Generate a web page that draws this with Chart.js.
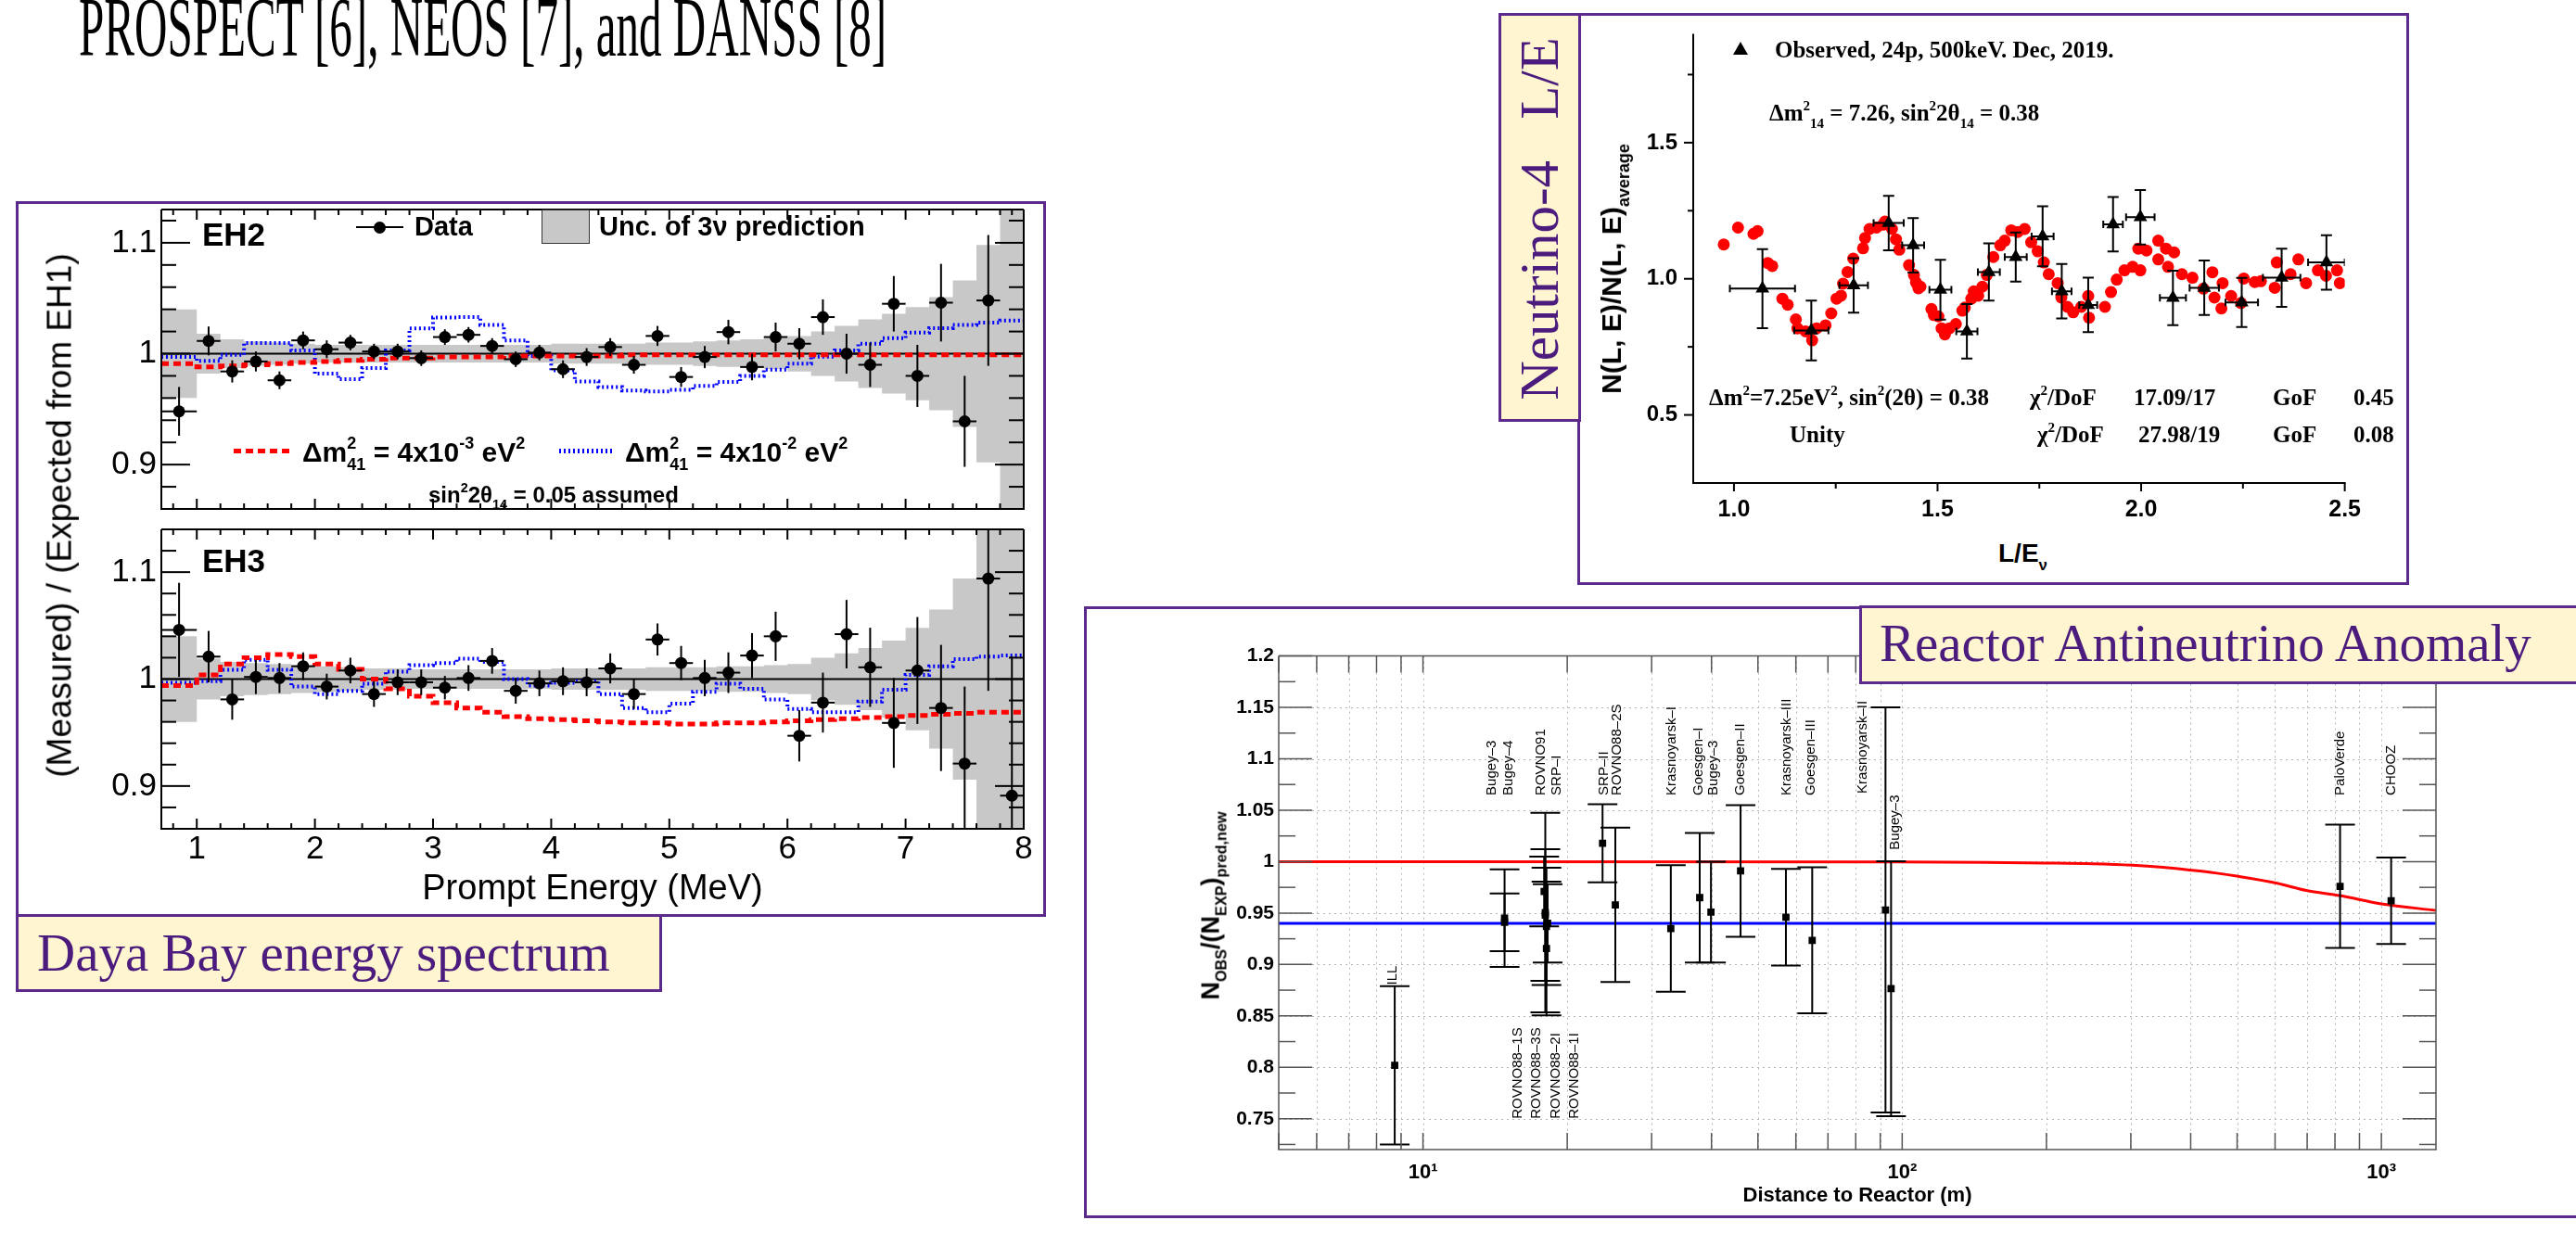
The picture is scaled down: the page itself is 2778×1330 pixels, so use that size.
<!DOCTYPE html>
<html>
<head>
<meta charset="utf-8">
<script src="https://cdn.jsdelivr.net/npm/chart.js@4.4.1/dist/chart.umd.min.js"></script>
<style>
  html, body { margin: 0; padding: 0; background: #fff; }
  body { position: relative; width: 2778px; height: 1330px; overflow: hidden; }
  canvas { position: absolute; }
  .box { position: absolute; border: 3px solid #5b2a8c; box-sizing: border-box; }
  .tag { position: absolute; border: 3px solid #5b2a8c; background: #fff6d1; box-sizing: border-box; }
  .txt { position: absolute; white-space: pre; line-height: 1; }
  .sp { font-size: 0.6em; position: relative; top: -0.75em; }
  .sb { font-size: 0.6em; position: relative; top: 0.5em; }
  .mk { position: absolute; }
</style>
</head>
<body>
<div class="box" style="left:17px;top:217px;width:1111px;height:772px"></div>
<div class="box" style="left:1701px;top:14px;width:897px;height:617px"></div>
<div class="box" style="left:1169px;top:654px;width:1612px;height:660px"></div>

<canvas id="eh2" width="1120" height="375" style="left:0;top:200px"></canvas>
<canvas id="eh3" width="1120" height="455" style="left:0;top:545px"></canvas>
<canvas id="n4" width="820" height="560" style="left:1740px;top:5px"></canvas>
<canvas id="rx" width="1330" height="590" style="left:1320px;top:690px"></canvas>

<div class="tag" style="left:17px;top:986px;width:697px;height:84px"></div>
<div class="tag" style="left:1616px;top:14px;width:89px;height:441px"></div>
<div class="tag" style="left:2005px;top:653px;width:776px;height:85px"></div>

<script>
// ---------- Daya Bay: EH2 / EH3 ratio to EH1 prediction ----------
const dbBinEdges = [0.7, 1.0, 1.2, 1.4, 1.6, 1.8, 2.0, 2.2, 2.4, 2.6, 2.8, 3.0, 3.2, 3.4, 3.6, 3.8, 4.0, 4.2, 4.4,
  4.6, 4.8, 5.0, 5.2, 5.4, 5.6, 5.8, 6.0, 6.2, 6.4, 6.6, 6.8, 7.0, 7.2, 7.4, 7.6, 7.8, 8.0];
const dbEnergy = [0.85, 1.1, 1.3, 1.5, 1.7, 1.9, 2.1, 2.3, 2.5, 2.7, 2.9, 3.1, 3.3, 3.5, 3.7, 3.9, 4.1, 4.3,
  4.5, 4.7, 4.9, 5.1, 5.3, 5.5, 5.7, 5.9, 6.1, 6.3, 6.5, 6.7, 6.9, 7.1, 7.3, 7.5, 7.7, 7.9];

const eh2Ratio = [0.948, 1.0115, 0.984, 0.993, 0.976, 1.012, 1.004, 1.010, 1.002, 1.002, 0.996, 1.015, 1.017,
  1.007, 0.995, 1.001, 0.986, 0.997, 1.006, 0.990, 1.016, 0.979, 0.997, 1.0195, 0.988, 1.015, 1.009, 1.033,
  1.000, 0.990, 1.045, 0.980, 1.046, 0.939, 1.048, 1.25];
const eh2Err = [0.022, 0.013, 0.010, 0.009, 0.008, 0.008, 0.008, 0.007, 0.007, 0.007, 0.007, 0.007, 0.007,
  0.007, 0.007, 0.007, 0.008, 0.008, 0.008, 0.008, 0.009, 0.009, 0.010, 0.011, 0.012, 0.013, 0.014, 0.016,
  0.018, 0.020, 0.025, 0.028, 0.035, 0.041, 0.059, 0.125];
const eh2Band = [0.040, 0.018, 0.013, 0.011, 0.010, 0.009, 0.008, 0.008, 0.008, 0.008, 0.008, 0.008, 0.008,
  0.008, 0.008, 0.008, 0.009, 0.009, 0.009, 0.009, 0.010, 0.010, 0.011, 0.012, 0.013, 0.014, 0.016, 0.020,
  0.025, 0.031, 0.036, 0.042, 0.051, 0.066, 0.098, 0.300];
const eh2Red = [0.991, 0.988, 0.989, 0.990, 0.991, 0.992, 0.993, 0.994, 0.995, 0.996, 0.996, 0.997, 0.997,
  0.997, 0.998, 0.998, 0.998, 0.998, 0.998, 0.999, 0.999, 0.999, 0.999, 0.999, 0.999, 0.999, 0.999, 0.999,
  0.999, 0.999, 0.999, 0.999, 0.999, 0.999, 0.999, 0.999];
const eh2Blue = [0.997, 0.9935, 0.999, 1.0096, 1.0096, 1.003, 0.982, 0.977, 0.987, 1.003, 1.0227, 1.0326,
  1.033, 1.026, 1.012, 0.998, 0.985, 0.975, 0.970, 0.9667, 0.966, 0.9675, 0.971, 0.9745, 0.980, 0.9857,
  0.991, 0.9974, 1.003, 1.009, 1.014, 1.019, 1.023, 1.026, 1.028, 1.030];

const eh3Ratio = [1.046, 1.021, 0.981, 1.002, 1.001, 1.012, 0.993, 1.008, 0.986, 0.997, 0.997, 0.992, 1.001,
  1.017, 0.989, 0.996, 0.998, 0.997, 1.010, 0.986, 1.037, 1.015, 1.001, 1.006, 1.022, 1.040, 0.947, 0.978,
  1.042, 1.011, 0.959, 1.008, 0.973, 0.921, 1.094, 0.891];
const eh3Err = [0.044, 0.024, 0.019, 0.016, 0.014, 0.013, 0.012, 0.012, 0.012, 0.012, 0.012, 0.011, 0.012,
  0.012, 0.012, 0.012, 0.013, 0.013, 0.014, 0.014, 0.015, 0.016, 0.017, 0.019, 0.021, 0.023, 0.024, 0.028,
  0.032, 0.037, 0.042, 0.050, 0.059, 0.072, 0.105, 0.130];
const eh3Band = [0.040, 0.019, 0.016, 0.015, 0.014, 0.013, 0.012, 0.011, 0.010, 0.010, 0.009, 0.009, 0.009,
  0.009, 0.009, 0.009, 0.010, 0.010, 0.010, 0.010, 0.011, 0.011, 0.011, 0.012, 0.012, 0.013, 0.014, 0.020,
  0.024, 0.029, 0.036, 0.048, 0.065, 0.094, 0.200, 0.300];
const eh3Red = [0.994, 1.004, 1.014, 1.020, 1.023, 1.021, 1.014, 1.009, 1.000, 0.991, 0.984, 0.978, 0.973,
  0.969, 0.965, 0.963, 0.962, 0.961, 0.960, 0.959, 0.959, 0.958, 0.958, 0.959, 0.959, 0.960, 0.961, 0.962,
  0.963, 0.964, 0.965, 0.966, 0.967, 0.968, 0.969, 0.969];
const eh3Blue = [0.9966, 0.998, 1.0086, 1.018, 1.0086, 0.993, 0.986, 0.989, 0.9957, 1.007, 1.013, 1.015,
  1.019, 1.016, 1.000, 0.994, 0.9966, 0.998, 0.986, 0.973, 0.969, 0.977, 0.988, 0.9957, 0.991, 0.981, 0.972,
  0.969, 0.969, 0.979, 0.990, 1.004, 1.012, 1.0186, 1.021, 1.022];

const dbXTicks = [1, 2, 3, 4, 5, 6, 7, 8];
const dbXMinor = [0.8, 1.2, 1.4, 1.6, 1.8, 2.2, 2.4, 2.6, 2.8, 3.2, 3.4, 3.6, 3.8, 4.2, 4.4, 4.6, 4.8, 5.2,
  5.4, 5.6, 5.8, 6.2, 6.4, 6.6, 6.8, 7.2, 7.4, 7.6, 7.8];
const dbYTicks = [0.9, 1.0, 1.1];
const dbYTickLabels = ['0.9', '1', '1.1'];
const dbYMinor = [0.86, 0.88, 0.92, 0.94, 0.96, 0.98, 1.02, 1.04, 1.06, 1.08, 1.12];

// ---------- Neutrino-4: N(L,E)/N(L,E)average vs L/E ----------
const n4ObsX = [1.07, 1.19, 1.294, 1.38, 1.44, 1.507, 1.572, 1.626, 1.692, 1.758, 1.805, 1.87, 1.931, 1.998,
  2.078, 2.155, 2.247, 2.345, 2.455];
const n4ObsY = [0.964, 0.81, 0.976, 1.205, 1.123, 0.96, 0.807, 1.025, 1.08, 1.156, 0.954, 0.904, 1.20, 1.226,
  0.93, 0.967, 0.913, 1.004, 1.06];
const n4ObsErrY = [0.145, 0.11, 0.10, 0.10, 0.10, 0.11, 0.10, 0.105, 0.09, 0.11, 0.10, 0.10, 0.10, 0.10,
  0.10, 0.10, 0.09, 0.107, 0.10];
const n4ObsErrX = [0.08, 0.042, 0.035, 0.037, 0.027, 0.027, 0.026, 0.027, 0.027, 0.027, 0.024, 0.022, 0.024,
  0.035, 0.032, 0.036, 0.04, 0.046, 0.045];
const n4CurveX = [0.975, 1.01, 1.048, 1.058, 1.083, 1.094, 1.119, 1.132, 1.152, 1.156, 1.176, 1.192, 1.203,
  1.225, 1.239, 1.252, 1.263, 1.268, 1.279, 1.293, 1.317, 1.322, 1.333, 1.35, 1.366, 1.371, 1.388, 1.398,
  1.406, 1.43, 1.442, 1.447, 1.453, 1.458, 1.485, 1.491, 1.502, 1.51, 1.518, 1.529, 1.545, 1.561, 1.567,
  1.583, 1.589, 1.6, 1.61, 1.621, 1.637, 1.654, 1.665, 1.681, 1.697, 1.714, 1.73, 1.746, 1.761, 1.773,
  1.795, 1.804, 1.819, 1.833, 1.853, 1.87, 1.872, 1.911, 1.926, 1.94, 1.959, 1.979, 1.998, 1.993, 2.013,
  2.042, 2.042, 2.061, 2.081, 2.066, 2.1, 2.126, 2.153, 2.175, 2.18, 2.197, 2.2, 2.221, 2.245, 2.252, 2.279,
  2.294, 2.328, 2.333, 2.367, 2.386, 2.405, 2.434, 2.454, 2.481, 2.488];
const n4CurveY = [1.126, 1.188, 1.165, 1.175, 1.058, 1.047, 0.927, 0.905, 0.851, 0.818, 0.807, 0.774, 0.818,
  0.829, 0.873, 0.927, 0.938, 0.982, 1.025, 1.074, 1.112, 1.15, 1.183, 1.188, 1.199, 1.21, 1.183, 1.145,
  1.107, 1.05, 1.014, 0.987, 0.965, 0.971, 0.889, 0.867, 0.862, 0.818, 0.796, 0.818, 0.834, 0.883, 0.894,
  0.927, 0.954, 0.938, 0.971, 1.014, 1.08, 1.123, 1.14, 1.178, 1.172, 1.183, 1.134, 1.101, 1.06, 1.017,
  0.984, 0.931, 0.897, 0.877, 0.897, 0.937, 0.857, 0.897, 0.951, 0.997, 1.031, 1.044, 1.031, 1.111, 1.104,
  1.14, 1.071, 1.111, 1.097, 1.044, 1.017, 1.004, 0.964, 1.024, 0.931, 0.891, 0.984, 0.937, 0.911, 1.001,
  0.988, 0.991, 0.967, 1.06, 1.017, 1.071, 0.984, 1.031, 1.011, 1.031, 0.984];
const n4XTicks = [1.0, 1.5, 2.0, 2.5];
const n4XTickLabels = ['1.0', '1.5', '2.0', '2.5'];
const n4XMinor = [1.25, 1.75, 2.25];
const n4YTicks = [0.5, 1.0, 1.5];
const n4YTickLabels = ['0.5', '1.0', '1.5'];
const n4YMinor = [0.75, 1.25, 1.75];

// ---------- Reactor antineutrino anomaly ----------
const rxDist = [8.73, 14.8, 14.8, 17.9, 18.0, 18.0, 18.1, 18.1, 18.2, 23.7, 25.2, 32.9, 37.8, 39.9, 46.0,
  57.2, 64.9, 92.3, 94.8, 820, 1048];
const rxRatio = [0.802, 0.945, 0.941, 0.971, 0.9505, 0.948, 0.937, 0.9155, 0.94, 1.0178, 0.958, 0.935, 0.965,
  0.951, 0.991, 0.946, 0.9235, 0.953, 0.8765, 0.976, 0.962];
const rxErr = [0.077, 0.0475, 0.028, 0.034, 0.097, 0.064, 0.057, 0.065, 0.038, 0.038, 0.075, 0.0615, 0.063,
  0.049, 0.064, 0.047, 0.071, 0.197, 0.124, 0.06, 0.042];
const rxCurveX = [5, 100, 150, 199, 250, 302, 350, 399, 450, 503, 606, 697, 820, 1000, 1300];
const rxCurveY = [1.0, 0.9997, 0.9993, 0.9987, 0.998, 0.9966, 0.9945, 0.9918, 0.989, 0.9857, 0.979, 0.972,
  0.967, 0.959, 0.9525];
const rxMeanX = [5, 1300];
const rxMeanY = [0.94, 0.94];
const rxLabels = ['Bugey–3', 'Bugey–4', 'ROVNO91', 'SRP–I', 'SRP–II', 'ROVNO88–2S', 'Krasnoyarsk–I',
  'Goesgen–I', 'Bugey–3', 'Goesgen–II', 'Krasnoyarsk–III', 'Goesgen–III', 'Krasnoyarsk–II', 'Bugey–3',
  'PaloVerde', 'CHOOZ', 'ILL', 'ROVNO88–1S', 'ROVNO88–3S', 'ROVNO88–2I', 'ROVNO88–1I'];
const rxLabelX = [13.9, 15.1, 17.6, 19.0, 23.9, 25.4, 33.0, 37.6, 40.4, 46.0, 57.3, 64.6, 82.6, 96.9, 822,
  1050, 8.63, 15.77, 17.23, 18.93, 20.7];
const rxLabelY = [1.0645, 1.0645, 1.0645, 1.0645, 1.0645, 1.0645, 1.0645, 1.0645, 1.0645, 1.0645, 1.0645,
  1.0645, 1.0663, 1.0115, 1.0645, 1.0645, 0.880, 0.750, 0.750, 0.750, 0.750];
const rxYTicks = [0.75, 0.8, 0.85, 0.9, 0.95, 1.0, 1.05, 1.1, 1.15, 1.2];
const rxYTickLabels = ['0.75', '0.8', '0.85', '0.9', '0.95', '1', '1.05', '1.1', '1.15', '1.2'];
const rxYMinor = [0.725, 0.775, 0.825, 0.875, 0.925, 0.975, 1.025, 1.075, 1.125, 1.175];
const rxXTicks = [10, 100, 1000];
const rxXTickLabels = ['10¹', '10²', '10³'];
const rxXMinor = [5, 6, 7, 8, 9, 10, 20, 30, 40, 50, 60, 70, 80, 90, 100, 200, 300, 400, 500, 600, 700, 800,
  900, 1000];

Chart.defaults.font.family = "'Liberation Sans', Arial, sans-serif";
Chart.defaults.color = '#000';

const xy = (xs, ys) => xs.map((x, i) => ({ x: x, y: ys[i] }));
const stepPoints = (edges, vals) => edges.map((e, i) => ({ x: e, y: vals[Math.min(i, vals.length - 1)] }));

// frame, ticks, grid, labels and error bars, per canvas
const decorConfig = {};

function seg(ctx, x1, y1, x2, y2) {
  ctx.beginPath(); ctx.moveTo(x1, y1); ctx.lineTo(x2, y2); ctx.stroke();
}

const decor = {
  id: 'decor',
  beforeDatasetsDraw(chart) {
    const o = decorConfig[chart.canvas.id];
    if (!o || !o.grid) return;
    const { ctx, chartArea: a, scales } = chart;
    ctx.save();
    ctx.strokeStyle = o.grid.color; ctx.lineWidth = 1; ctx.setLineDash(o.grid.dash);
    o.grid.x.forEach(v => { const p = Math.round(scales.x.getPixelForValue(v)) + 0.5; seg(ctx, p, a.top, p, a.bottom); });
    o.grid.y.forEach(v => { const p = Math.round(scales.y.getPixelForValue(v)) + 0.5; seg(ctx, a.left, p, a.right, p); });
    ctx.restore();
  },
  afterDatasetDraw(chart, args) {
    const ds = chart.data.datasets[args.index];
    if (!ds.errY && !ds.errX) return;
    const { ctx, chartArea: a, scales } = chart;
    ctx.save();
    ctx.beginPath(); ctx.rect(a.left, a.top, a.right - a.left, a.bottom - a.top); ctx.clip();
    ctx.strokeStyle = '#000'; ctx.lineWidth = ds.errWidth || 2;
    ds.data.forEach((p, i) => {
      const px = scales.x.getPixelForValue(p.x), py = scales.y.getPixelForValue(p.y);
      if (ds.errY) {
        const y1 = scales.y.getPixelForValue(p.y + ds.errY[i]), y2 = scales.y.getPixelForValue(p.y - ds.errY[i]);
        seg(ctx, px, y1, px, y2);
        if (ds.capY) { seg(ctx, px - ds.capY, y1, px + ds.capY, y1); seg(ctx, px - ds.capY, y2, px + ds.capY, y2); }
      }
      if (ds.errX) {
        const x1 = scales.x.getPixelForValue(p.x - ds.errX[i]), x2 = scales.x.getPixelForValue(p.x + ds.errX[i]);
        seg(ctx, x1, py, x2, py);
        if (ds.capX) { seg(ctx, x1, py - ds.capX, x1, py + ds.capX); seg(ctx, x2, py - ds.capX, x2, py + ds.capX); }
      }
    });
    ctx.restore();
  },
  afterDatasetsDraw(chart) {
    const o = decorConfig[chart.canvas.id];
    if (!o) return;
    const { ctx, chartArea: a, scales } = chart;
    ctx.save();
    ctx.strokeStyle = o.color; ctx.lineWidth = o.tickWidth;
    o.ticks.forEach(t => {
      const sc = scales[t.axis];
      t.values.forEach(v => {
        if (v < sc.min - 1e-9 || v > sc.max + 1e-9) return;
        const p = sc.getPixelForValue(v);
        const s = t.dir === 'out' ? -1 : 1;
        t.sides.forEach(side => {
          if (side === 'left') seg(ctx, a.left, p, a.left + s * t.len, p);
          if (side === 'right') seg(ctx, a.right, p, a.right - s * t.len, p);
          if (side === 'bottom') seg(ctx, p, a.bottom, p, a.bottom - s * t.len);
          if (side === 'top') seg(ctx, p, a.top, p, a.top + s * t.len);
        });
      });
    });
    ctx.lineWidth = o.frameWidth;
    o.frame.forEach(side => {
      if (side === 'left') seg(ctx, a.left, a.top, a.left, a.bottom);
      if (side === 'right') seg(ctx, a.right, a.top, a.right, a.bottom);
      if (side === 'top') seg(ctx, a.left, a.top, a.right, a.top);
      if (side === 'bottom') seg(ctx, a.left - o.frameWidth / 2, a.bottom, a.right + o.frameWidth / 2, a.bottom);
    });
    if (o.labels) {
      ctx.fillStyle = '#000';
      ctx.font = o.labels.font;
      ctx.textAlign = 'left'; ctx.textBaseline = 'middle';
      o.labels.text.forEach((txt, i) => {
        const px = scales.x.getPixelForValue(o.labels.x[i]), py = scales.y.getPixelForValue(o.labels.y[i]);
        ctx.save(); ctx.translate(px, py); ctx.rotate(-Math.PI / 2); ctx.fillText(txt, 0, 0); ctx.restore();
      });
    }
    ctx.restore();
  }
};
Chart.register(decor);

const baseOptions = (padding) => ({
  responsive: false, animation: false, devicePixelRatio: 1, events: [],
  layout: { padding: padding },
  plugins: { legend: { display: false }, tooltip: { enabled: false } }
});

function dayaBay(id, ratio, err, band, red, blue, yMax, padTop, xHeight, showX) {
  const halfBin = dbEnergy.map((e, i) => (dbBinEdges[i + 1] - dbBinEdges[i]) / 2);
  decorConfig[id] = {
    color: '#000', tickWidth: 2, frameWidth: 2, frame: ['left', 'right', 'top', 'bottom'],
    ticks: [
      { axis: 'y', values: dbYTicks, len: 31, sides: ['left', 'right'], dir: 'in' },
      { axis: 'y', values: dbYMinor, len: 16, sides: ['left', 'right'], dir: 'in' },
      { axis: 'x', values: dbXTicks, len: 11, sides: ['bottom', 'top'], dir: 'in' },
      { axis: 'x', values: dbXMinor, len: 6, sides: ['bottom', 'top'], dir: 'in' }
    ]
  };
  const opts = baseOptions({ top: padTop, right: 16, bottom: 0, left: 0 });
  opts.scales = {
    x: {
      type: 'linear', min: 0.7, max: 8,
      grid: { display: false, drawTicks: false }, border: { display: false },
      afterBuildTicks: s => { s.ticks = dbXTicks.map(v => ({ value: v })); },
      ticks: { display: showX, autoSkip: false, maxRotation: 0, padding: 1, font: { size: 35 },
        callback: (v, i) => String(dbXTicks[i]) },
      afterFit: s => { s.height = xHeight; }
    },
    y: {
      type: 'linear', min: 0.86, max: yMax,
      grid: { display: false, drawTicks: false }, border: { display: false },
      afterBuildTicks: s => { s.ticks = dbYTicks.map(v => ({ value: v })); },
      ticks: { autoSkip: false, padding: 5, font: { size: 35 }, callback: (v, i) => dbYTickLabels[i] },
      afterFit: s => { s.width = 174; }
    }
  };
  new Chart(document.getElementById(id), {
    type: 'line',
    data: { datasets: [
      { data: xy(dbEnergy, ratio), showLine: false, pointRadius: 6.5, pointBackgroundColor: '#000',
        pointBorderWidth: 0, errX: halfBin, errY: err, order: 0 },
      { data: stepPoints(dbBinEdges, red), stepped: true, borderColor: '#ff0000', borderWidth: 5,
        borderDash: [8, 5], pointRadius: 0, order: 1 },
      { data: stepPoints(dbBinEdges, blue), stepped: true, borderColor: '#0000ff', borderWidth: 4,
        borderDash: [2, 3], pointRadius: 0, order: 2 },
      { data: [{ x: 0.7, y: 1 }, { x: 8, y: 1 }], borderColor: '#000', borderWidth: 2, pointRadius: 0, order: 3 },
      { data: stepPoints(dbBinEdges, band.map(h => 1 + h)), stepped: true, borderWidth: 0, pointRadius: 0,
        fill: '+1', backgroundColor: '#c8c8c8', order: 4 },
      { data: stepPoints(dbBinEdges, band.map(h => 1 - h)), stepped: true, borderWidth: 0, pointRadius: 0,
        fill: false, order: 5 }
    ] },
    options: opts
  });
}

dayaBay('eh2', eh2Ratio, eh2Err, eh2Band, eh2Red, eh2Blue, 1.13, 21, 10, false);
dayaBay('eh3', eh3Ratio, eh3Err, eh3Band, eh3Red, eh3Blue, 1.14, 20, 106, true);

// Neutrino-4
decorConfig.n4 = {
  color: '#000', tickWidth: 2, frameWidth: 2, frame: ['left', 'bottom'],
  ticks: [
    { axis: 'y', values: n4YTicks, len: 10, sides: ['left'], dir: 'out' },
    { axis: 'y', values: n4YMinor, len: 6, sides: ['left'], dir: 'out' },
    { axis: 'x', values: n4XTicks, len: 9, sides: ['bottom'], dir: 'out' },
    { axis: 'x', values: n4XMinor, len: 6, sides: ['bottom'], dir: 'out' }
  ]
};
(function () {
  const opts = baseOptions({ top: 10, right: 20, bottom: 0, left: 0 });
  opts.scales = {
    x: {
      type: 'linear', min: 0.9, max: 2.5,
      grid: { display: false, drawTicks: false }, border: { display: false },
      afterBuildTicks: s => { s.ticks = n4XTicks.map(v => ({ value: v })); },
      ticks: { autoSkip: false, maxRotation: 0, padding: 14, font: { size: 25, weight: 'bold' },
        callback: (v, i) => n4XTickLabels[i] },
      afterFit: s => { s.height = 44; }
    },
    y: {
      type: 'linear', min: 0.25, max: 1.9,
      grid: { display: false, drawTicks: false }, border: { display: false },
      afterBuildTicks: s => { s.ticks = n4YTicks.map(v => ({ value: v })); },
      ticks: { autoSkip: false, padding: 17, font: { size: 24, weight: 'bold' },
        callback: (v, i) => n4YTickLabels[i] },
      afterFit: s => { s.width = 86; }
    }
  };
  new Chart(document.getElementById('n4'), {
    type: 'line',
    data: { datasets: [
      { data: xy(n4ObsX, n4ObsY), showLine: false, pointStyle: 'triangle', pointRadius: 8.5,
        pointBackgroundColor: '#000', pointBorderWidth: 0, errX: n4ObsErrX, errY: n4ObsErrY,
        capX: 4, capY: 6, order: 0 },
      { data: xy(n4CurveX, n4CurveY), showLine: false, pointStyle: 'circle', pointRadius: 6.5,
        pointBackgroundColor: '#ff0000', pointBorderWidth: 0, order: 1 }
    ] },
    options: opts
  });
})();

// Reactor antineutrino anomaly
decorConfig.rx = {
  color: '#555', tickWidth: 1.5, frameWidth: 1.5, frame: ['left', 'right', 'top', 'bottom'],
  grid: { color: '#b5b5b5', dash: [2, 4], x: rxXMinor.slice(1), y: rxYTicks.slice(0, -1) },
  ticks: [
    { axis: 'y', values: rxYTicks, len: 36, sides: ['left', 'right'], dir: 'in' },
    { axis: 'y', values: rxYMinor, len: 18, sides: ['left', 'right'], dir: 'in' },
    { axis: 'x', values: rxXMinor, len: 18, sides: ['bottom', 'top'], dir: 'in' }
  ],
  labels: { font: "15px 'Liberation Sans', Arial, sans-serif", text: rxLabels, x: rxLabelX, y: rxLabelY }
};
(function () {
  const opts = baseOptions({ top: 14, right: 23, bottom: 0, left: 0 });
  opts.scales = {
    x: {
      type: 'logarithmic', min: 5, max: 1300,
      grid: { display: false, drawTicks: false }, border: { display: false },
      afterBuildTicks: s => { s.ticks = rxXTicks.map(v => ({ value: v })); },
      ticks: { autoSkip: false, maxRotation: 0, padding: 12, font: { size: 22, weight: 'bold' },
        callback: (v, i) => rxXTickLabels[i] },
      afterFit: s => { s.height = 40; }
    },
    y: {
      type: 'linear', min: 0.72, max: 1.2,
      grid: { display: false, drawTicks: false }, border: { display: false },
      afterBuildTicks: s => { s.ticks = rxYTicks.map(v => ({ value: v })); },
      ticks: { autoSkip: false, padding: 5, font: { size: 21, weight: 'bold' },
        callback: (v, i) => rxYTickLabels[i] },
      afterFit: s => { s.width = 59; }
    }
  };
  new Chart(document.getElementById('rx'), {
    type: 'line',
    data: { datasets: [
      { data: xy(rxDist, rxRatio), showLine: false, pointStyle: 'rect', pointRadius: 5.5,
        pointBackgroundColor: '#000', pointBorderWidth: 0, errY: rxErr, capY: 16, order: 0 },
      { data: xy(rxCurveX, rxCurveY), borderColor: '#ff0000', borderWidth: 3, pointRadius: 0,
        cubicInterpolationMode: 'monotone', order: 1 },
      { data: xy(rxMeanX, rxMeanY), borderColor: '#0000ff', borderWidth: 3, pointRadius: 0, order: 2 }
    ] },
    options: opts
  });
})();

// ---------- text ----------
function T(html, x, base, size, o) {
  o = o || {};
  const d = document.createElement('div');
  d.className = 'txt';
  d.innerHTML = html;
  const fam = o.serif ? "'Liberation Serif', 'Times New Roman', serif" : "'Liberation Sans', Arial, sans-serif";
  d.style.font = (o.bold ? 'bold ' : '') + size + 'px ' + fam;
  d.style.lineHeight = '1';
  d.style.color = o.color || '#000';
  d.style.left = x + 'px';
  d.style.top = (base - size * (o.serif ? 0.8375 : 0.8465)) + 'px';
  if (o.center) d.style.transform = 'translateX(-50%)';
  if (o.sx) { d.style.transform = 'scaleX(' + o.sx + ')'; d.style.transformOrigin = '0 0'; }
  document.body.appendChild(d);
  return d;
}
function V(html, cx, cy, size, o) {
  o = o || {};
  const d = T(html, 0, 0, size, o);
  d.style.left = cx + 'px';
  d.style.top = cy + 'px';
  d.style.transform = 'translate(-50%,-50%) rotate(-90deg)';
  return d;
}
function M(style) {
  const d = document.createElement('div');
  d.className = 'mk';
  d.setAttribute('style', style);
  document.body.appendChild(d);
}
const purple = '#4b1c7d';

T('PROSPECT [6], NEOS [7], and DANSS [8]', 85, 60, 90, { serif: true, sx: 0.545 });

// Daya Bay panel
T('EH2', 218, 265, 35, { bold: true });
T('EH3', 218, 617, 35, { bold: true });
M('left:384px;top:244px;width:51px;height:2px;background:#000');
M('left:403px;top:239px;width:13px;height:13px;border-radius:50%;background:#000');
T('Data', 447, 255, 29, { bold: true });
M('left:584px;top:226px;width:52px;height:37px;background:#c8c8c8;border:1.5px solid #333;box-sizing:border-box');
T('Unc. of 3ν prediction', 646, 255, 29, { bold: true });
M('left:252px;top:484px;width:63px;height:5px;background:repeating-linear-gradient(90deg,#f00 0 8px,transparent 8px 13px)');
T('Δm<span class="sp">2</span><span class="sb" style="margin-left:-0.556em">41</span> = 4x10<span class="sp">-3</span> eV<span class="sp">2</span>', 326, 498, 30, { bold: true });
M('left:603px;top:484px;width:60px;height:5px;background:repeating-linear-gradient(90deg,#00f 0 2px,transparent 2px 5px)');
T('Δm<span class="sp">2</span><span class="sb" style="margin-left:-0.556em">41</span> = 4x10<span class="sp">-2</span> eV<span class="sp">2</span>', 674, 498, 30, { bold: true });
T('sin<span class="sp">2</span>2θ<span class="sb">14</span> = 0.05 assumed', 462, 542, 24, { bold: true });
V('(Measured) / (Expected from EH1)', 64, 556, 37);
T('Prompt Energy (MeV)', 639, 970, 38, { center: true });
T('Daya Bay energy spectrum', 40, 1047, 57, { serif: true, color: purple });

// Neutrino-4 panel
V('Neutrino-4   L/E', 1660, 236, 59, { serif: true, color: purple });
V('N(L, E)/N(L, E)<span class="sb">average</span>', 1738, 290, 30, { bold: true });
T('L/E<span class="sb">ν</span>', 2155, 607, 28, { bold: true });
M('left:1869px;top:45px;width:0;height:0;border-left:8px solid transparent;border-right:8px solid transparent;border-bottom:14px solid #000');
T('Observed, 24p, 500keV. Dec, 2019.', 1914, 62, 25, { serif: true, bold: true });
T('Δm<span class="sp">2</span><span class="sb">14</span> = 7.26, sin<span class="sp">2</span>2θ<span class="sb">14</span> = 0.38', 1908, 130, 25, { serif: true, bold: true });
T('Δm<span class="sp">2</span>=7.25eV<span class="sp">2</span>, sin<span class="sp">2</span>(2θ) = 0.38', 1843, 437, 25, { serif: true, bold: true });
T('χ<span class="sp">2</span>/DoF', 2189, 437, 25, { serif: true, bold: true });
T('17.09/17', 2301, 437, 25, { serif: true, bold: true });
T('GoF', 2451, 437, 25, { serif: true, bold: true });
T('0.45', 2538, 437, 25, { serif: true, bold: true });
T('Unity', 1930, 477, 25, { serif: true, bold: true });
T('χ<span class="sp">2</span>/DoF', 2197, 477, 25, { serif: true, bold: true });
T('27.98/19', 2306, 477, 25, { serif: true, bold: true });
T('GoF', 2451, 477, 25, { serif: true, bold: true });
T('0.08', 2538, 477, 25, { serif: true, bold: true });

// Reactor panel
V('N<span class="sb">OBS</span>/(N<span class="sb">EXP</span>)<span class="sb">pred,new</span>', 1306, 977, 27, { bold: true });
T('Distance to Reactor (m)', 2003, 1297, 22, { bold: true, center: true });
T('Reactor Antineutrino Anomaly', 2027, 713, 57, { serif: true, color: purple });
</script>
</body>
</html>
